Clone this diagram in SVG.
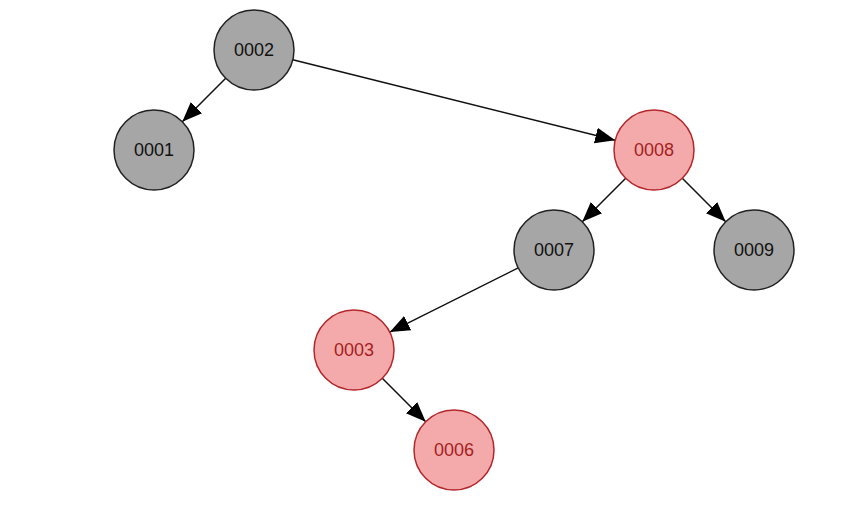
<svg xmlns="http://www.w3.org/2000/svg" width="858" height="530" viewBox="0 0 858 530">
<style>
.black circle{fill:#a6a6a6;stroke:#222;stroke-width:1.5}
.red circle{fill:#f4aaaa;stroke:#b3262a;stroke-width:1.5}
text{font-family:"Liberation Sans",Arial,sans-serif;font-size:18px;text-anchor:middle;dominant-baseline:central}
.black text{fill:#111}
.red text{fill:#a51e22}
.edges line{stroke:#111;stroke-width:1.5;marker-end:url(#arr)}
</style>
<defs>
<marker id="arr" markerUnits="userSpaceOnUse" markerWidth="20" markerHeight="20" viewBox="0 0 20 20" refX="20" refY="10" orient="auto">
<path d="M0,2 L20,10 L0,18 Z" fill="#000"/>
</marker>
</defs>
<rect width="858" height="530" fill="#fff"/>
<g class="edges">
<line x1="225.7" y1="78.3" x2="182.3" y2="121.7"/>
<line x1="292.8" y1="59.7" x2="615.2" y2="140.3"/>
<line x1="625.7" y1="178.3" x2="582.3" y2="221.7"/>
<line x1="682.3" y1="178.3" x2="725.7" y2="221.7"/>
<line x1="518.2" y1="267.9" x2="389.8" y2="332.1"/>
<line x1="382.3" y1="378.3" x2="425.7" y2="421.7"/>
</g>
<g id="n0002" class="black"><circle cx="254" cy="50" r="40"/><text x="254" y="50">0002</text></g>
<g id="n0001" class="black"><circle cx="154" cy="150" r="40"/><text x="154" y="150">0001</text></g>
<g id="n0008" class="red"><circle cx="654" cy="150" r="40"/><text x="654" y="150">0008</text></g>
<g id="n0007" class="black"><circle cx="554" cy="250" r="40"/><text x="554" y="250">0007</text></g>
<g id="n0009" class="black"><circle cx="754" cy="250" r="40"/><text x="754" y="250">0009</text></g>
<g id="n0003" class="red"><circle cx="354" cy="350" r="40"/><text x="354" y="350">0003</text></g>
<g id="n0006" class="red"><circle cx="454" cy="450" r="40"/><text x="454" y="450">0006</text></g>
</svg>
